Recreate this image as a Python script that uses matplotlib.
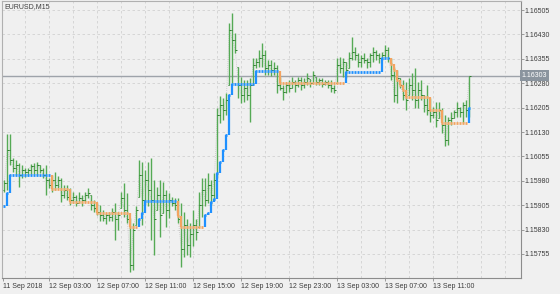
"""
EURUSD M15 chart with a stepped trend line (blue = up, orange = down),
redrawn in matplotlib in the style of a MetaTrader terminal window.
"""

import numpy as np
import matplotlib.pyplot as plt
from matplotlib.transforms import blended_transform_factory

SYMBOL = "EURUSD,M15"
LAST_PRICE = 1.16303

# --- OHLC, one entry per 15 minute bar (first bar 11 Sep 2018 23:15) ---
opens = [
    1.15953, 1.15974, 1.16075, 1.16045, 1.16020, 1.16029, 1.15999, 1.16014, 1.16008, 1.16014,
    1.16026, 1.16014, 1.16029, 1.16014, 1.15999, 1.15983, 1.15968, 1.15983, 1.15968, 1.15983,
    1.15937, 1.15953, 1.15931, 1.15922, 1.15931, 1.15913, 1.15928, 1.15922, 1.15937, 1.15937,
    1.15907, 1.15897, 1.15885, 1.15876, 1.15867, 1.15876, 1.15870, 1.15885, 1.15861, 1.15897,
    1.15928, 1.15891, 1.15861, 1.15722, 1.15845, 1.15931, 1.15999, 1.15922, 1.15983, 1.15953,
    1.15922, 1.15891, 1.15937, 1.15882, 1.15937, 1.15891, 1.15922, 1.15913, 1.15907, 1.15861,
    1.15769, 1.15845, 1.15784, 1.15815, 1.15845, 1.15839, 1.15907, 1.15953, 1.15922, 1.15968,
    1.15937, 1.15990, 1.16183, 1.16214, 1.16198, 1.16275, 1.16444, 1.16413, 1.16330, 1.16275,
    1.16244, 1.16266, 1.16244, 1.16275, 1.16336, 1.16346, 1.16358, 1.16367, 1.16327, 1.16336,
    1.16321, 1.16327, 1.16275, 1.16266, 1.16254, 1.16275, 1.16266, 1.16284, 1.16275, 1.16290,
    1.16275, 1.16284, 1.16293, 1.16281, 1.16300, 1.16284, 1.16290, 1.16278, 1.16284, 1.16275,
    1.16266, 1.16281, 1.16336, 1.16327, 1.16346, 1.16327, 1.16358, 1.16376, 1.16367, 1.16346,
    1.16358, 1.16352, 1.16346, 1.16367, 1.16376, 1.16367, 1.16358, 1.16367, 1.16382, 1.16358,
    1.16306, 1.16244, 1.16297, 1.16275, 1.16244, 1.16244, 1.16275, 1.16260, 1.16229, 1.16260,
    1.16244, 1.16214, 1.16198, 1.16183, 1.16192, 1.16174, 1.16198, 1.16152, 1.16106, 1.16168,
    1.16174, 1.16192, 1.16204, 1.16192, 1.16214, 1.16198,
]
highs = [
    1.15983, 1.16125, 1.16125, 1.16051, 1.16045, 1.16036, 1.16029, 1.16020, 1.16020, 1.16032,
    1.16036, 1.16039, 1.16029, 1.16020, 1.16029, 1.15990, 1.15999, 1.16008, 1.15996, 1.15990,
    1.15968, 1.15968, 1.15959, 1.15947, 1.15937, 1.15947, 1.15937, 1.15947, 1.15959, 1.15937,
    1.15922, 1.15913, 1.15907, 1.15891, 1.15882, 1.15885, 1.15897, 1.15913, 1.15885, 1.15947,
    1.15974, 1.15944, 1.15867, 1.15851, 1.15901, 1.16045, 1.16039, 1.16014, 1.16039, 1.16051,
    1.15983, 1.15962, 1.15983, 1.15977, 1.15953, 1.15944, 1.15931, 1.15928, 1.15928, 1.15913,
    1.15885, 1.15861, 1.15851, 1.15891, 1.15861, 1.15947, 1.15990, 1.15990, 1.16005, 1.15983,
    1.16005, 1.16204, 1.16241, 1.16235, 1.16250, 1.16465, 1.16496, 1.16435, 1.16330, 1.16300,
    1.16290, 1.16290, 1.16297, 1.16358, 1.16358, 1.16382, 1.16404, 1.16382, 1.16352, 1.16352,
    1.16346, 1.16336, 1.16300, 1.16275, 1.16284, 1.16290, 1.16300, 1.16290, 1.16300, 1.16300,
    1.16297, 1.16312, 1.16293, 1.16318, 1.16300, 1.16297, 1.16297, 1.16290, 1.16290, 1.16290,
    1.16275, 1.16358, 1.16361, 1.16358, 1.16346, 1.16376, 1.16422, 1.16392, 1.16373, 1.16367,
    1.16373, 1.16358, 1.16373, 1.16392, 1.16382, 1.16373, 1.16376, 1.16398, 1.16392, 1.16358,
    1.16330, 1.16321, 1.16297, 1.16290, 1.16284, 1.16297, 1.16312, 1.16327, 1.16284, 1.16290,
    1.16244, 1.16275, 1.16235, 1.16207, 1.16223, 1.16223, 1.16204, 1.16183, 1.16177, 1.16192,
    1.16198, 1.16223, 1.16207, 1.16223, 1.16229, 1.16303,
]
lows = [
    1.15947, 1.15953, 1.16029, 1.16008, 1.15999, 1.15962, 1.15990, 1.15993, 1.15996, 1.16002,
    1.16002, 1.15999, 1.16005, 1.15990, 1.15937, 1.15959, 1.15947, 1.15953, 1.15959, 1.15916,
    1.15928, 1.15922, 1.15907, 1.15913, 1.15901, 1.15913, 1.15901, 1.15916, 1.15928, 1.15891,
    1.15885, 1.15876, 1.15855, 1.15855, 1.15848, 1.15855, 1.15855, 1.15799, 1.15830, 1.15897,
    1.15870, 1.15851, 1.15701, 1.15707, 1.15845, 1.15931, 1.15845, 1.15907, 1.15901, 1.15799,
    1.15753, 1.15891, 1.15808, 1.15882, 1.15839, 1.15867, 1.15901, 1.15891, 1.15851, 1.15716,
    1.15747, 1.15753, 1.15747, 1.15778, 1.15799, 1.15839, 1.15870, 1.15901, 1.15913, 1.15907,
    1.15922, 1.15990, 1.16158, 1.16168, 1.16183, 1.16275, 1.16281, 1.16373, 1.16235, 1.16220,
    1.16223, 1.16229, 1.16161, 1.16275, 1.16327, 1.16330, 1.16330, 1.16306, 1.16306, 1.16303,
    1.16306, 1.16250, 1.16260, 1.16229, 1.16250, 1.16254, 1.16266, 1.16254, 1.16269, 1.16260,
    1.16266, 1.16275, 1.16269, 1.16281, 1.16275, 1.16275, 1.16269, 1.16275, 1.16266, 1.16254,
    1.16250, 1.16281, 1.16312, 1.16300, 1.16297, 1.16327, 1.16352, 1.16352, 1.16330, 1.16330,
    1.16343, 1.16327, 1.16330, 1.16346, 1.16352, 1.16343, 1.16352, 1.16358, 1.16346, 1.16290,
    1.16223, 1.16220, 1.16266, 1.16229, 1.16198, 1.16244, 1.16229, 1.16204, 1.16204, 1.16229,
    1.16192, 1.16183, 1.16161, 1.16174, 1.16146, 1.16174, 1.16128, 1.16088, 1.16091, 1.16152,
    1.16174, 1.16177, 1.16177, 1.16158, 1.16177, 1.16177,
]
closes = [
    1.15974, 1.16075, 1.16045, 1.16020, 1.16029, 1.15999, 1.16014, 1.16008, 1.16014, 1.16026,
    1.16014, 1.16029, 1.16014, 1.15999, 1.15983, 1.15968, 1.15983, 1.15968, 1.15983, 1.15937,
    1.15953, 1.15931, 1.15922, 1.15931, 1.15913, 1.15928, 1.15922, 1.15937, 1.15944, 1.15907,
    1.15897, 1.15885, 1.15876, 1.15867, 1.15876, 1.15870, 1.15885, 1.15861, 1.15876, 1.15928,
    1.15891, 1.15861, 1.15722, 1.15830, 1.15891, 1.15999, 1.15922, 1.15983, 1.15953, 1.15922,
    1.15861, 1.15937, 1.15876, 1.15937, 1.15891, 1.15922, 1.15913, 1.15907, 1.15861, 1.15769,
    1.15845, 1.15784, 1.15815, 1.15845, 1.15824, 1.15907, 1.15953, 1.15922, 1.15968, 1.15937,
    1.15983, 1.16183, 1.16214, 1.16198, 1.16229, 1.16444, 1.16413, 1.16382, 1.16275, 1.16244,
    1.16266, 1.16244, 1.16275, 1.16336, 1.16346, 1.16358, 1.16367, 1.16327, 1.16336, 1.16321,
    1.16327, 1.16275, 1.16266, 1.16254, 1.16275, 1.16266, 1.16284, 1.16275, 1.16290, 1.16275,
    1.16284, 1.16297, 1.16281, 1.16306, 1.16284, 1.16290, 1.16278, 1.16284, 1.16275, 1.16266,
    1.16260, 1.16336, 1.16327, 1.16346, 1.16321, 1.16358, 1.16376, 1.16367, 1.16346, 1.16358,
    1.16352, 1.16346, 1.16367, 1.16376, 1.16367, 1.16358, 1.16367, 1.16382, 1.16358, 1.16306,
    1.16244, 1.16297, 1.16275, 1.16244, 1.16229, 1.16275, 1.16260, 1.16229, 1.16260, 1.16244,
    1.16214, 1.16198, 1.16183, 1.16192, 1.16168, 1.16198, 1.16152, 1.16106, 1.16168, 1.16174,
    1.16192, 1.16204, 1.16192, 1.16214, 1.16198, 1.16303,
]

# --- step line: bar where each level starts, the level, and direction ---
step_start = [0, 1, 2, 16, 22, 31, 42, 45, 46, 47,
              58, 59, 67, 68, 69, 70, 71, 72, 73, 74,
              75, 76, 84, 92, 114, 126, 129, 130, 131, 132,
              133, 134, 142, 146, 155]
step_level = [1.15903, 1.15943, 1.15998, 1.15956, 1.15916, 1.15882, 1.15839, 1.15864, 1.15882, 1.15919,
              1.15873, 1.15839, 1.15876, 1.15882, 1.15916, 1.15925, 1.16005, 1.16038, 1.16075, 1.16121,
              1.16244, 1.16278, 1.16318, 1.16281, 1.16315, 1.16358, 1.16339, 1.16321, 1.16290, 1.16275,
              1.16259, 1.16238, 1.16198, 1.16158, 1.16204]
step_up = [1, 1, 1, 0, 0, 0, 0, 1, 1, 1,
           0, 0, 1, 1, 1, 1, 1, 1, 1, 1,
           1, 1, 1, 0, 1, 1, 0, 0, 0, 0,
           0, 0, 0, 0, 1]

x_tick_bars = [-0.5, 15, 31, 47, 63, 79, 95, 111, 127, 143]
x_tick_labels = ["11 Sep 2018", "12 Sep 03:00", "12 Sep 07:00", "12 Sep 11:00",
                 "12 Sep 15:00", "12 Sep 19:00", "12 Sep 23:00", "13 Sep 03:00",
                 "13 Sep 07:00", "13 Sep 11:00"]
y_ticks = [1.15755, 1.15830, 1.15905, 1.15980, 1.16055, 1.16130,
           1.16205, 1.16280, 1.16355, 1.16430, 1.16505]

BG = "#f0f0f0"
BAR_GREEN = "#55aa55"
TICK_GREEN = "#2f7f2f"
UP_BLUE = "#1e90ff"
DOWN_ORANGE = "#f4a460"
GRID = "#d2d2d2"
TEXT = "#3c3c3c"
FONT = "Liberation Sans"


def main() -> None:
    plt.rcParams["font.family"] = [FONT, "DejaVu Sans"]

    fig = plt.figure(figsize=(5.6, 2.94), dpi=100, facecolor=BG)
    ax = fig.add_axes([2 / 560, 1 - 277.7 / 294, 518.7 / 560, 276.7 / 294])
    ax.set_facecolor(BG)

    idx = np.arange(len(highs))

    # dashed grid, every 2 hours vertically and at each price tick
    for gx in range(7, 172, 8):
        ax.axvline(gx, color=GRID, lw=0.6, ls=(0, (3, 3)), zorder=0)
    for gy in y_ticks:
        ax.axhline(gy, color=GRID, lw=0.6, ls=(0, (3, 3)), zorder=0)

    # last price line
    ax.axhline(LAST_PRICE, color="#9ea3aa", lw=1.0, zorder=1)

    # thin gray dotted line through the closes
    ax.plot(idx, closes, color="#c4c4c4", lw=0.6, ls=(0, (1, 1.5)), zorder=1.5)

    # OHLC bars
    ax.vlines(idx, lows, highs, color=BAR_GREEN, lw=1.0, zorder=2)
    ax.hlines(opens, idx - 0.45, idx, color=TICK_GREEN, lw=0.7, zorder=2.1)
    ax.hlines(closes, idx, idx + 0.45, color=TICK_GREEN, lw=0.7, zorder=2.1)

    # step line: short dashes per bar, solid risers at level changes
    lengths = np.diff(step_start + [len(highs)])
    levels = np.repeat(step_level, lengths)
    up = np.repeat(step_up, lengths).astype(bool)
    colors = np.where(up, UP_BLUE, DOWN_ORANGE)
    ax.hlines(levels, idx - 0.34, idx + 0.34, colors=colors, lw=2.0, zorder=3)
    for i in range(1, len(levels)):
        if levels[i] != levels[i - 1]:
            ax.vlines(i, levels[i - 1], levels[i], color=colors[i], lw=1.6, zorder=3)

    ax.set_xlim(-0.77, 172.13)
    ax.set_ylim(1.15682, 1.16533)

    # axes cosmetics
    for side in ["left", "top"]:
        ax.spines[side].set_color("#b0b0b0")
        ax.spines[side].set_linewidth(0.8)
    for side in ["right", "bottom"]:
        ax.spines[side].set_color("#8c8c8c")
        ax.spines[side].set_linewidth(0.8)

    ax.set_xticks(x_tick_bars, x_tick_labels)
    for lbl in ax.get_xticklabels():
        lbl.set_horizontalalignment("left")
    ax.tick_params(axis="x", direction="out", length=2.2, width=0.6, color="#8c8c8c",
                   pad=1.6, labelsize=5, labelcolor=TEXT)

    ax.yaxis.tick_right()
    ax.set_yticks(y_ticks, [f"{v:.5f}" for v in y_ticks])
    ax.tick_params(axis="y", direction="out", length=2.0, width=0.6, color="#8c8c8c",
                   pad=0.8, labelsize=5, labelcolor=TEXT)

    # last price badge on the price scale
    trans = blended_transform_factory(ax.transAxes, ax.transData)
    ax.text(1.0 + 1.2 / 518.7, LAST_PRICE, f"{LAST_PRICE:.5f}", transform=trans,
            ha="left", va="center", fontsize=5, color="white", zorder=5,
            bbox=dict(boxstyle="square,pad=0.3", fc="#8a949e", ec="none"),
            clip_on=False)

    fig.text(4 / 560, 1 - 3.2 / 294, SYMBOL, ha="left", va="top",
             fontsize=5, color=TEXT)

    fig.savefig("out.png", dpi=100, facecolor=BG)


if __name__ == "__main__":
    main()
